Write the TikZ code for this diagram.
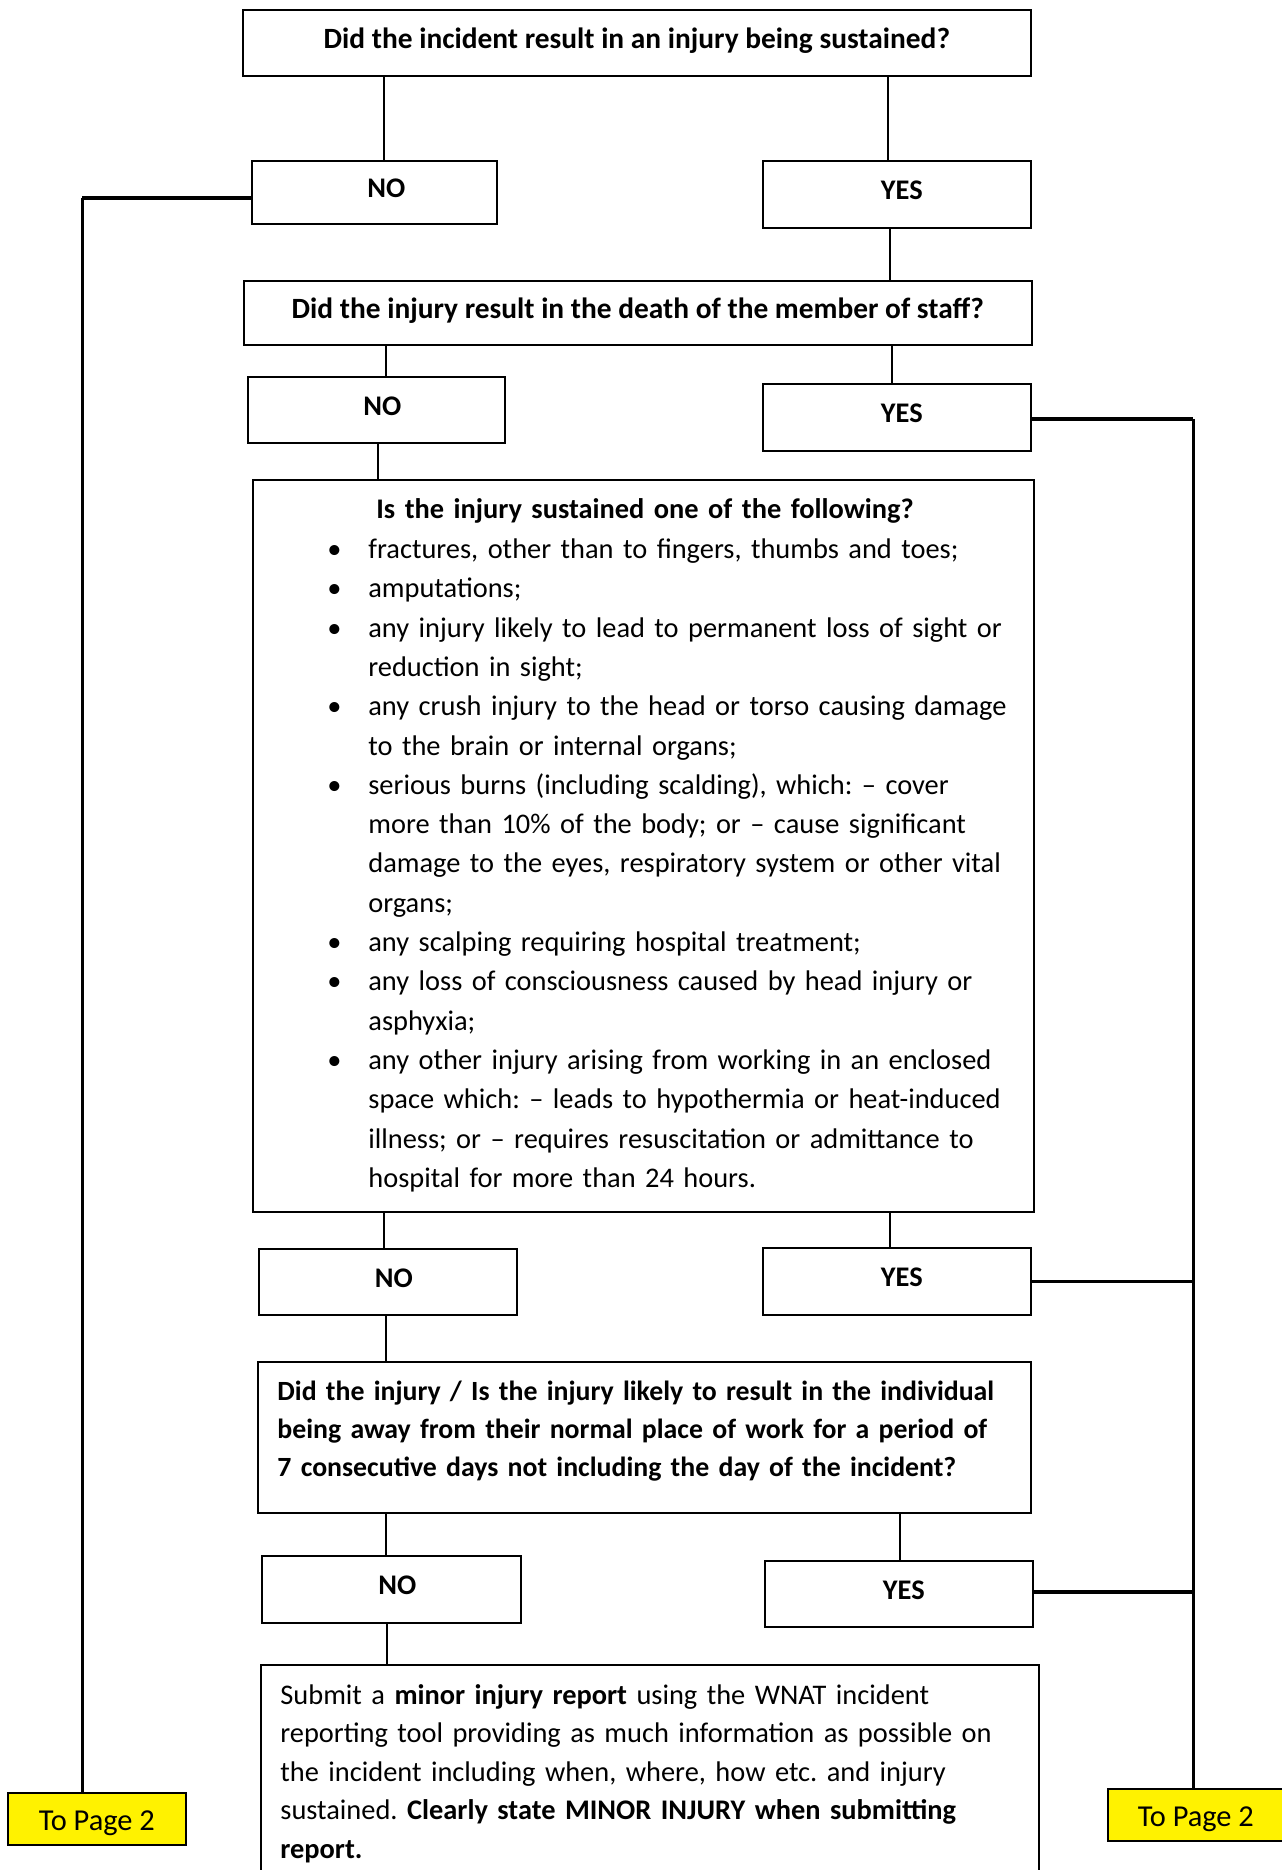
\documentclass[tikz,border=0pt]{standalone}
\usepackage{fontspec}
\setmainfont{Carlito}
\usetikzlibrary{calc}
\newcommand{\itembul}{\leavevmode\llap{\makebox[20.5pt][l]{•}}}
\frenchspacing
\begin{document}
\frenchspacing
\begin{tikzpicture}[x=0.5pt,y=-0.5pt,
  box/.style={draw=black, line width=0.8pt, inner sep=0pt, anchor=north west},
  head/.style={box, font=\fontsize{14.7}{17}\selectfont\bfseries, text depth=4.5pt},
  yn/.style={box, font=\fontsize{14.2}{17}\selectfont\bfseries, text depth=4pt},
  para/.style={inner sep=0pt, anchor=base west, align=left, text width=380pt},
  page/.style={box, fill=yellow, font=\fontsize{15.2}{17}\selectfont, text height=13.5pt, text depth=2pt},
  conn/.style={line width=1.2pt},
  side/.style={line width=1.8pt}]
\useasboundingbox (0,0) rectangle (1281,1870);
% boxes
\node[head, minimum width=394pt, minimum height=33pt] (q1) at (242,9) {Did the incident result in an injury being sustained?};
\node[yn, minimum width=122.5pt, minimum height=31.5pt] (no1) at (251,160) {\hspace*{12pt}NO};
\node[yn, minimum width=134pt, minimum height=33.5pt] (yes1) at (762,160) {\hspace*{5pt}YES};
\node[head, minimum width=394pt, minimum height=32pt] (q2) at (243,280) {Did the injury result in the death of the member of staff?};
\node[yn, minimum width=128.5pt, minimum height=33pt] (no2) at (247,376) {\hspace*{6pt}NO};
\node[yn, minimum width=134pt, minimum height=33.5pt] (yes2) at (762,383) {\hspace*{5pt}YES};
\node[box, minimum width=390.5pt, minimum height=366pt] (q3) at (252,479) {};
\node[para, font=\fontsize{14.2}{19.65}\selectfont] (q3t) at (368,518) {%
\hspace*{4pt}\textbf{Is the injury sustained one of the following?}\\[0.6pt]
\itembul fractures, other than to fingers, thumbs and toes;\\
\itembul amputations;\\
\itembul any injury likely to lead to permanent loss of sight or\\
reduction in sight;\\
\itembul any crush injury to the head or torso causing damage\\
to the brain or internal organs;\\
\itembul serious burns (including scalding), which: – cover\\
more than 10\% of the body; or – cause significant\\
damage to the eyes, respiratory system or other vital\\
organs;\\
\itembul any scalping requiring hospital treatment;\\
\itembul any loss of consciousness caused by head injury or\\
asphyxia;\\
\itembul any other injury arising from working in an enclosed\\
space which: – leads to hypothermia or heat-induced\\
illness; or – requires resuscitation or admittance to\\
hospital for more than 24 hours.};
\node[yn, minimum width=129pt, minimum height=33pt] (no3) at (258,1248) {\hspace*{6pt}NO};
\node[yn, minimum width=134pt, minimum height=33.5pt] (yes3) at (762,1247) {\hspace*{5pt}YES};
\node[box, minimum width=386.5pt, minimum height=75.5pt] (q4) at (257,1361) {};
\node[para, font=\fontsize{13.9}{19}\selectfont\bfseries] (q4t) at (277,1400) {%
Did the injury / Is the injury likely to result in the individual\\
being away from their normal place of work for a period of\\
7 consecutive days not including the day of the incident?};
\node[yn, minimum width=129.5pt, minimum height=33.5pt] (no4) at (261,1555) {\hspace*{6pt}NO};
\node[yn, minimum width=134pt, minimum height=33pt] (yes4) at (764,1560) {\hspace*{5pt}YES};
\node[box, minimum width=389pt, minimum height=113pt] (q5) at (260,1664) {};
\node[para, font=\fontsize{14.2}{19.3}\selectfont] (q5t) at (280,1704) {%
Submit a \textbf{minor injury report} using the WNAT incident\\
reporting tool providing as much information as possible on\\
the incident including when, where, how etc. and injury\\
sustained. \textbf{Clearly state MINOR INJURY when submitting}\\
\textbf{report.}};
\node[page, minimum width=89pt, minimum height=26pt] (p2l) at (7,1792) {To Page 2};
\node[page, minimum width=88pt, minimum height=26pt] (p2r) at (1107,1788) {To Page 2};
% connector guide coordinates
\coordinate (c1) at (384,0);
\coordinate (c2) at (888,0);
\coordinate (c3) at (890,0);
\coordinate (c4) at (386,0);
\coordinate (c5) at (892,0);
\coordinate (c6) at (378,0);
\coordinate (c7) at (384,0);
\coordinate (c8) at (890,0);
\coordinate (c9) at (386,0);
\coordinate (c10) at (386,0);
\coordinate (c11) at (900,0);
\coordinate (c12) at (387,0);
\coordinate (cl) at (82,0);
\coordinate (cr) at (1193,0);
% vertical connectors
\draw[conn] (q1.south -| c1) -- (no1.north -| c1);
\draw[conn] (q1.south -| c2) -- (yes1.north -| c2);
\draw[conn] (yes1.south -| c3) -- (q2.north -| c3);
\draw[conn] (q2.south -| c4) -- (no2.north -| c4);
\draw[conn] (q2.south -| c5) -- (yes2.north -| c5);
\draw[conn] (no2.south -| c6) -- (q3.north -| c6);
\draw[conn] (q3.south -| c7) -- (no3.north -| c7);
\draw[conn] (q3.south -| c8) -- (yes3.north -| c8);
\draw[conn] (no3.south -| c9) -- (q4.north -| c9);
\draw[conn] (q4.south -| c10) -- (no4.north -| c10);
\draw[conn] (q4.south -| c11) -- (yes4.north -| c11);
\draw[conn] (no4.south -| c12) -- (q5.north -| c12);
% side connectors
\draw[side] ([yshift=-2.8pt]no1.west) -- ([yshift=-2.8pt]no1.west -| cl);
\draw[line width=1.5pt] ([yshift=-2.8pt]no1.west -| cl) -- (p2l.north -| cl);
\draw[side] ([yshift=-0.8pt]yes2.east) -- ([yshift=-0.8pt]yes2.east -| cr);
\draw[line width=1.5pt] ([yshift=-0.8pt]yes2.east -| cr) -- (p2r.north -| cr);
\draw[side] (yes3.east) -- (yes3.east -| cr);
\draw[side] ([yshift=1pt]yes4.east) -- ([yshift=1pt]yes4.east -| cr);
\end{tikzpicture}
\end{document}
